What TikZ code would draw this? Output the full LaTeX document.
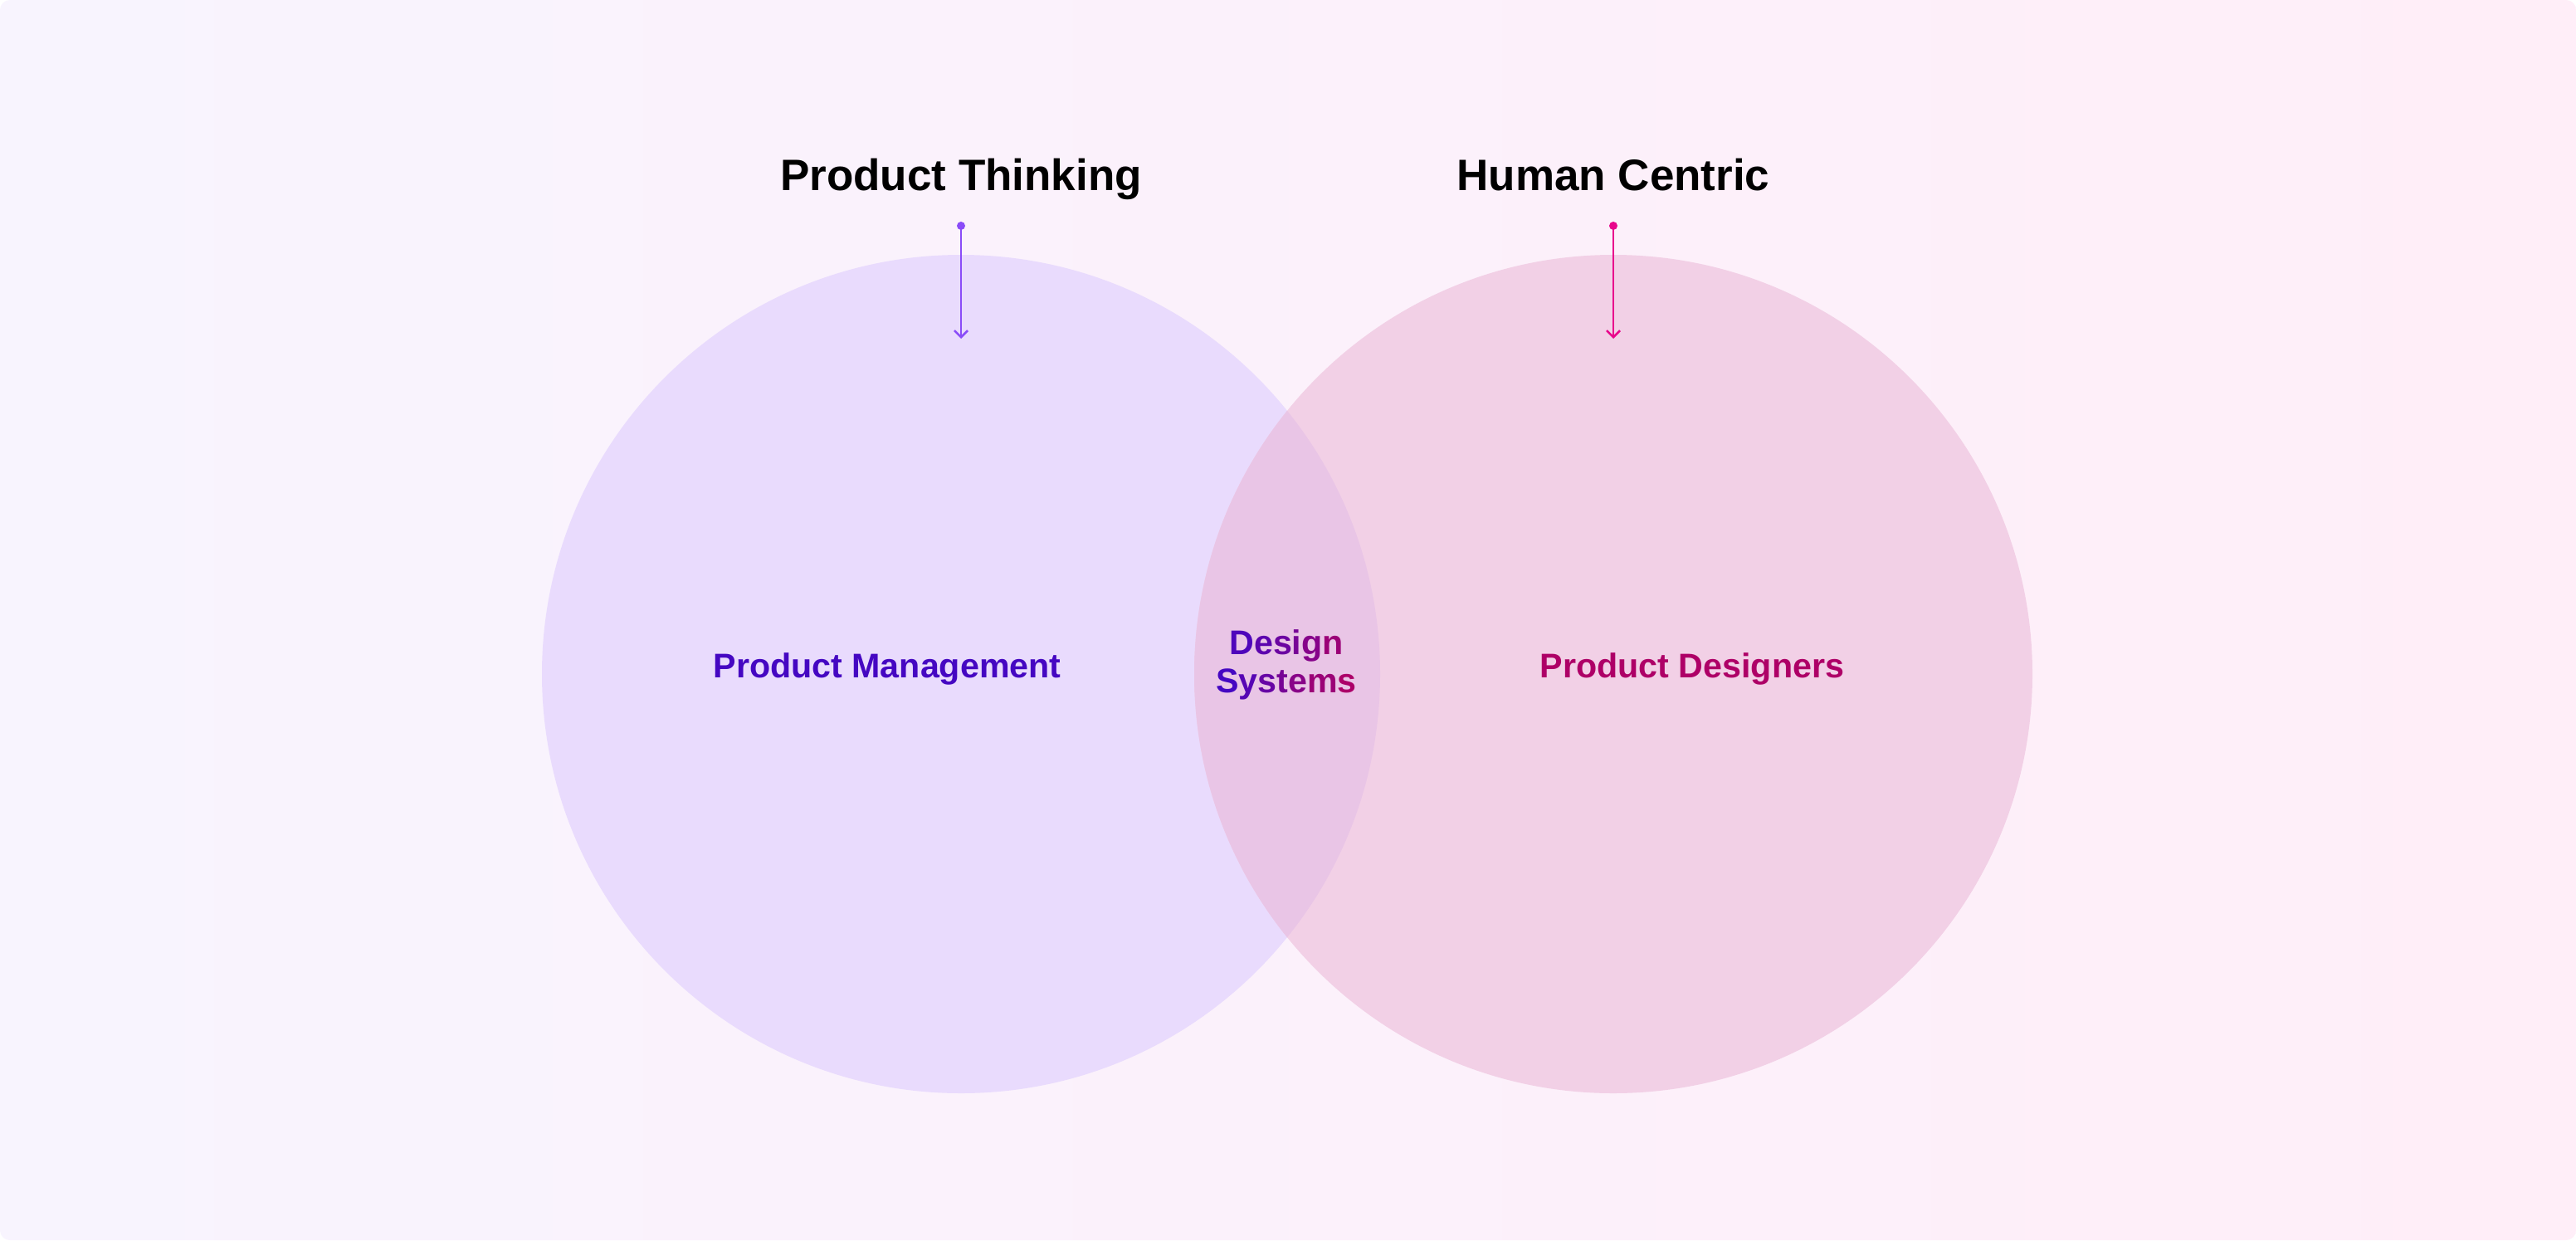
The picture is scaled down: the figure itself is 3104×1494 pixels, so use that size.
\documentclass[tikz,border=0pt]{standalone}
\usepackage{fontspec}
\setmainfont{Liberation Sans}
\usetikzlibrary{arrows.meta}
\definecolor{bgL}{HTML}{F8F4FE}
\definecolor{bgR}{HTML}{FFEEF8}
\definecolor{circL}{HTML}{E9DBFD}
\definecolor{circR}{HTML}{F2D0E6}
\definecolor{circM}{HTML}{E9C5E6}
\definecolor{pmC}{HTML}{4507C2}
\definecolor{pdC}{HTML}{AE0067}
\definecolor{arL}{HTML}{8A4CF8}
\definecolor{arR}{HTML}{E8068C}
\newcommand{\gl}[2]{\textcolor{pmC!#1!pdC}{#2}}
\tikzset{
  titlelbl/.style={font=\bfseries\fontsize{26.5}{31}\selectfont, text=black, inner sep=0pt, anchor=base},
  arealbl/.style={font=\bfseries\fontsize{20.6}{24}\selectfont, inner sep=0pt, anchor=base},
  pinline/.style={line width=1.3pt, -{Straight Barb[length=4pt,width=8pt,line width=1.3pt]}},
  pindot/.style={circle, inner sep=0pt, minimum size=5pt}
}
\begin{document}
\begin{tikzpicture}[x=0.5pt,y=-0.5pt]
\useasboundingbox (0,0) rectangle (3104,1494);
\fill[white] (0,0) rectangle (3104,1494);
\shade[left color=bgL, right color=bgR, rounded corners=6pt] (0,0) rectangle (3104,1494);
% circles
\fill[circL] (1158,812) circle [radius=505];
\fill[circR] (1944,812) circle [radius=505];
\begin{scope}
  \clip (1158,812) circle [radius=505];
  \fill[circM] (1944,812) circle [radius=505];
\end{scope}
% titles
\node[titlelbl] (pt) at (1158,229) {Product Thinking};
\node[titlelbl] (hc) at (1944,229) {Human Centric};
% pins
\node[pindot, fill=arL] (ptdot) at (1158,272) {};
\coordinate (ptend) at (1158,408);
\draw[pinline, arL] (ptdot.center) -- (ptend);
\node[pindot, fill=arR] (hcdot) at (1944,272) {};
\coordinate (hcend) at (1944,408);
\draw[pinline, arR] (hcdot.center) -- (hcend);
% labels
\node[arealbl, text=pmC] (pm) at (1069,816) {Product Management};
\node[arealbl, text=pdC] (pd) at (2039,816) {Product Designers};
\node[arealbl, anchor=center, align=center] (ds) at (1550,801) {\gl{92}{D}\gl{78}{e}\gl{64}{s}\gl{52}{i}\gl{38}{g}\gl{18}{n}\\[-1pt]\gl{100}{S}\gl{84}{y}\gl{68}{s}\gl{52}{t}\gl{36}{e}\gl{18}{m}\gl{2}{s}};
\end{tikzpicture}
\end{document}
